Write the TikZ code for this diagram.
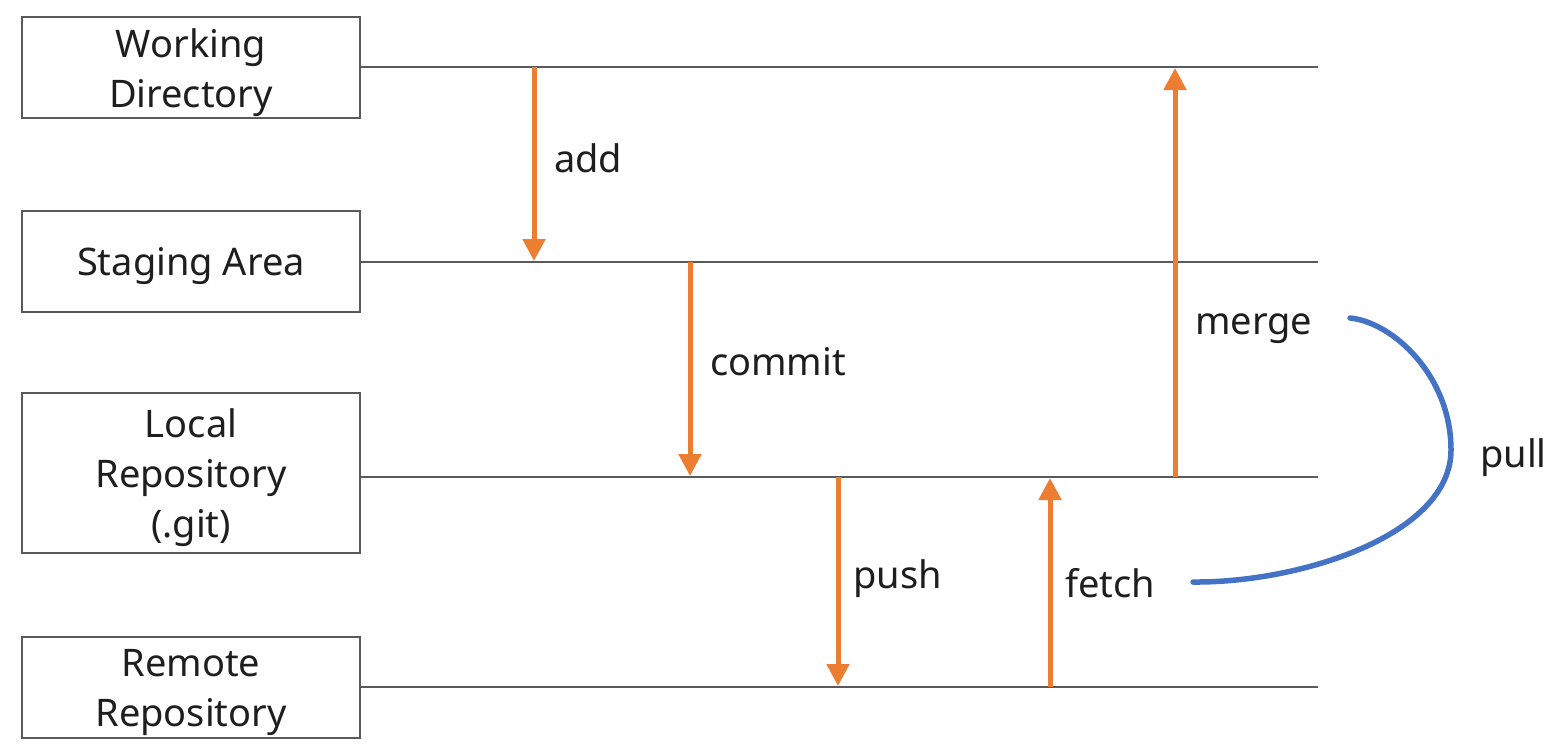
\documentclass[tikz,border=0pt]{standalone}
\usepackage{fontspec}
\setmainfont{Noto Sans}
\usetikzlibrary{arrows.meta}
\definecolor{gorange}{RGB}{237,125,49}
\definecolor{gblue}{RGB}{68,114,196}
\definecolor{glinec}{RGB}{90,90,90}
\definecolor{gtext}{RGB}{30,30,30}
\begin{document}
\begin{tikzpicture}[x=1pt,y=-1pt,
  areabox/.style={draw=glinec,line width=2pt,minimum width=338pt,inner sep=0pt},
  areatext/.style={inner sep=0pt,align=center,text=gtext,font=\fontsize{38}{50}\selectfont,yshift=-5pt},
  level/.style={draw=glinec,line width=2pt},
  op/.style={draw=gorange,line width=5pt,-{Triangle[width=22pt,length=22pt]}},
  oplabel/.style={anchor=base west,inner sep=0pt,text=gtext,font=\fontsize{38}{46}\selectfont},
  pullline/.style={draw=gblue,line width=5.5pt,line cap=round}]
\useasboundingbox (0,0) rectangle (1562,750);
% boxes
\node[areabox,minimum height=101pt] (wd) at (191,67.5) {};
\node[areabox,minimum height=101pt] (sa) at (191,261.5) {};
\node[areabox,minimum height=160pt] (lr) at (191,473) {};
\node[areabox,minimum height=101pt] (rr) at (191,687.5) {};
\node[areatext] (wdT) at (wd.center) {Working\\Directory};
\node[areatext] (saT) at (sa.center) {Staging Area};
\node[areatext] (lrT) at (lr.center) {Local\\Repository\\(.git)};
\node[areatext] (rrT) at (rr.center) {Remote\\Repository};
% level line ends
\coordinate (e1) at (1318,67);
\coordinate (e2) at (1318,262);
\coordinate (e3) at (1318,477);
\coordinate (e4) at (1318,687);
\draw[level] (wd.east |- e1) -- (e1);
\draw[level] (sa.east |- e2) -- (e2);
\draw[level] (lr.east |- e3) -- (e3);
\draw[level] (rr.east |- e4) -- (e4);
% arrow end points
\coordinate (addS) at (534,67);   \coordinate (addT) at (534,261);
\coordinate (comS) at (690,262);  \coordinate (comT) at (690,476);
\coordinate (pshS) at (838,477);  \coordinate (pshT) at (838,686);
\coordinate (fetS) at (1050,687); \coordinate (fetT) at (1050,478);
\coordinate (mrgS) at (1175,477); \coordinate (mrgT) at (1175,68);
\draw[op] (addS) -- (addT);
\draw[op] (comS) -- (comT);
\draw[op] (pshS) -- (pshT);
\draw[op] (fetS) -- (fetT);
\draw[op] (mrgS) -- (mrgT);
% labels
\node[oplabel] (addL) at (554,172) {add};
\node[oplabel] (comL) at (710,375) {commit};
\node[oplabel] (pshL) at (853,588) {push};
\node[oplabel] (fetL) at (1065,597) {fetch};
\node[oplabel] (mrgL) at (1195,334) {merge};
\node[oplabel] (pulL) at (1480,467) {pull};
% pull curve
\coordinate (pullS) at (1350,318);
\coordinate (pullM) at (1451,450);
\coordinate (pullE) at (1193,582);
\draw[pullline] (pullS) .. controls (1392,322) and (1451,375) .. (pullM)
  .. controls (1451,535) and (1300,583) .. (pullE);
\end{tikzpicture}
\end{document}
